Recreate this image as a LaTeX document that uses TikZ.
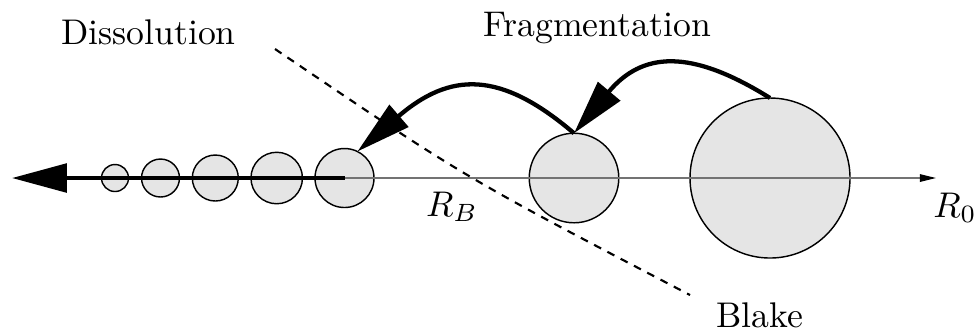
\documentclass[tikz,border=0pt]{standalone}
\usepackage{amsmath,amssymb}
\usetikzlibrary{arrows.meta}

\begin{document}
\begin{tikzpicture}[x=0.0985mm, y=-0.0985mm, every node/.style={font=\normalsize},
	bubble/.style={circle, draw, line width=0.4pt, fill=gray!20, inner sep=0pt, outer sep=0pt},
	flow/.style={line width=1.2pt, -{Triangle[length=5.4mm, width=2.8mm]}},
	cut/.style={line width=0.6pt, dash pattern=on 2.2pt off 2pt}]
	\useasboundingbox (0,0) rectangle (977,329);
	% bubbles along the radius axis
	\node[bubble, minimum size=2.66mm] (b1) at (115,178) {};
	\node[bubble, minimum size=3.74mm] (b2) at (160.5,178) {};
	\node[bubble, minimum size=4.53mm] (b3) at (215.3,178) {};
	\node[bubble, minimum size=5.07mm] (b4) at (276.7,178) {};
	\node[bubble, minimum size=5.81mm] (b5) at (344.5,178) {};
	\node[bubble, minimum size=8.82mm] (b6) at (574,178) {};
	\node[bubble, minimum size=15.76mm] (b7) at (770,178) {};
	\coordinate (tail) at (12,178);
	\coordinate (head) at (936,178);
	\draw[black!55, line width=0.35pt, -{Triangle[color=black, length=1.6mm, width=0.75mm]}] (b5.center) -- (head);
	\draw[flow] (b5.center) -- (tail);
	% fragmentation steps
	\draw[flow] (b7.north) .. controls (690,48) and (642,52) .. (b6.north);
	\draw[flow] (b6.north) .. controls (500,70) and (450,72) .. (b5.64);
	% Blake threshold
	\coordinate (blakeA) at (275,49);
	\coordinate (blakeB) at (690,295);
	\draw[cut] (blakeA) .. controls (464,177) .. (blakeB);
	\node[anchor=base] (dis) at (148.5,44) {Dissolution};
	\node[anchor=base] (frag) at (597,36) {Fragmentation};
	\node[anchor=base] (rb) at (452,216) {$R_B$};
	\node[anchor=base] (r0) at (955,217) {$R_0$};
	\node[anchor=base] (blake) at (759.5,327) {Blake};
\end{tikzpicture}
\end{document}
